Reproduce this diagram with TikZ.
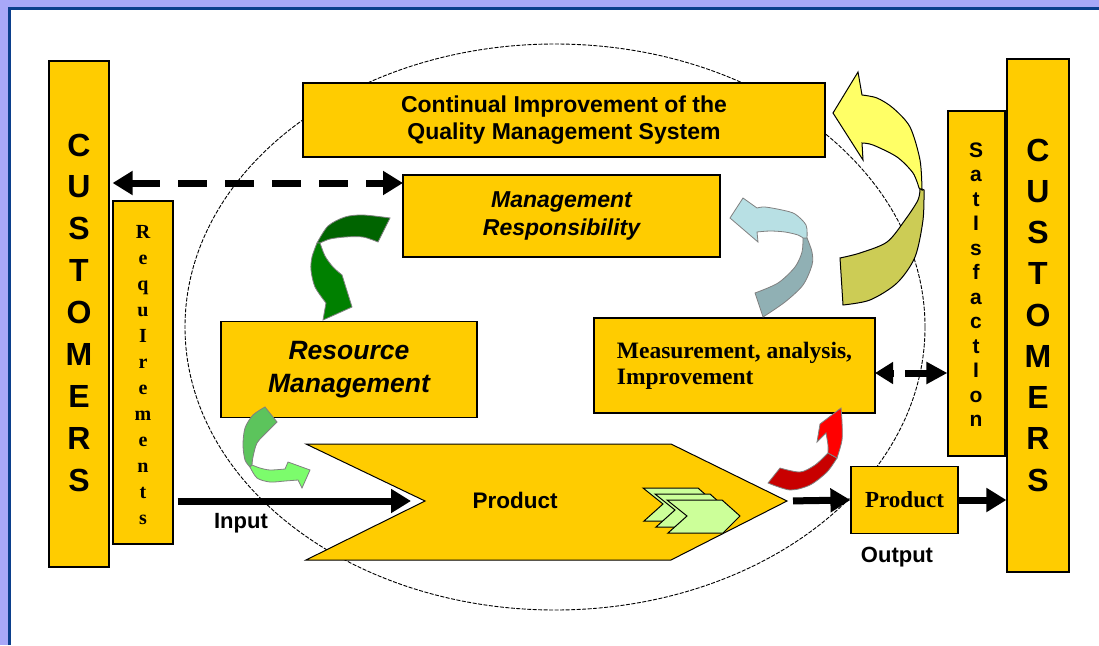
\documentclass[tikz,border=0pt]{standalone}
\usepackage{fontspec}
\setmainfont{Liberation Serif}
\setsansfont{Liberation Sans}
\usetikzlibrary{arrows.meta}

\definecolor{boxgold}{HTML}{FFCC00}
\definecolor{framelav}{HTML}{A8A8F8}
\definecolor{framenavy}{HTML}{0B3F8C}
\definecolor{chevgreen}{HTML}{CCFF99}
\definecolor{dkgreenA}{HTML}{006400}
\definecolor{dkgreenB}{HTML}{008000}
\definecolor{ltgreenA}{HTML}{5CC45C}
\definecolor{ltgreenB}{HTML}{7CFC6C}
\definecolor{iceA}{HTML}{B8E0E4}
\definecolor{iceB}{HTML}{90B0B4}
\definecolor{redA}{HTML}{FF0000}
\definecolor{redB}{HTML}{C80000}
\definecolor{yelA}{HTML}{FFFF66}
\definecolor{yelB}{HTML}{CCCC55}

\tikzset{
  goldbox/.style={draw=black, line width=1.2pt, fill=boxgold, inner sep=0pt},
  fatarrow/.style={line width=7pt, -{Triangle[length=20pt,width=23pt]}},
  twist/.style={draw=gray, line width=0.8pt},
  bigletter/.style={font=\sffamily\bfseries\fontsize{32}{32}\selectfont},
  reqletter/.style={font=\rmfamily\bfseries\fontsize{20}{20}\selectfont, anchor=base},
  satletter/.style={font=\sffamily\bfseries\fontsize{21}{21}\selectfont, anchor=base},
}

\begin{document}
\begin{tikzpicture}[x=1pt,y=-1pt]
\useasboundingbox (0,0) rectangle (1099,645);
%% frame
\fill[framelav] (0,0) rectangle (1099,645);
\fill[white] (8,7) rectangle (1099,645);
\draw[framenavy, line width=3pt] (9.5,645) -- (9.5,8.5) -- (1099,8.5);

%% the loop
\draw[line width=0.9pt, dash pattern=on 4pt off 1.5pt] (555,327) ellipse [x radius=370, y radius=283];

%% customers and their bars
\node[goldbox, minimum width=60pt, minimum height=506pt] (custin) at (79,314) {};
\node[goldbox, minimum width=60pt, minimum height=343pt] (req) at (143,372.5) {};
\node[goldbox, minimum width=57pt, minimum height=345pt] (sat) at (976.5,283.5) {};
\node[goldbox, minimum width=62pt, minimum height=513pt] (custout) at (1038,315.5) {};
\foreach \ch [count=\i from 0] in {C,U,S,T,O,M,E,R,S}
  \node[bigletter] (cl\i) at (79,145+41.9*\i) {\ch};
\foreach \ch [count=\i from 0] in {C,U,S,T,O,M,E,R,S}
  \node[bigletter] (cr\i) at (1038,150+41.25*\i) {\ch};
\foreach \ch [count=\i from 0] in {R,e,q,u,I,r,e,m,e,n,t,s}
  \node[reqletter] (rq\i) at (143,238+26*\i) {\ch};
\foreach \ch [count=\i from 0] in {S,a,t,I,s,f,a,c,t,I,o,n}
  \node[satletter] (st\i) at (976,157+24.5*\i) {\ch};

%% process boxes
\node[goldbox, minimum width=522pt, minimum height=74pt, align=center,
  font=\sffamily\bfseries\fontsize{23}{27}\selectfont] (cont) at (564,120)
  {Continual Improvement of the\\Quality Management System};
\node[goldbox, minimum width=317pt, minimum height=82pt, align=center,
  font=\sffamily\bfseries\itshape\fontsize{23}{28}\selectfont] (mgmt) at (561.5,216)
  {Management\\Responsibility};
\node[goldbox, minimum width=256pt, minimum height=96pt, align=center,
  font=\sffamily\bfseries\itshape\fontsize{26.5}{33}\selectfont] (res) at (349,369.5)
  {Resource\\Management};
\node[goldbox, minimum width=281pt, minimum height=95pt, align=left,
  font=\rmfamily\bfseries\fontsize{23.5}{26}\selectfont] (meas) at (734.5,365.5)
  {Measurement, analysis,\\Improvement};
\node[goldbox, minimum width=107pt, minimum height=67pt,
  font=\rmfamily\bfseries\fontsize{23}{23}\selectfont] (prodout) at (904.5,500) {Product};

%% product chevron
\coordinate (notch) at (425,501);
\coordinate (tip) at (787,501);
\draw[fill=boxgold, line width=1pt] (306,444) -- (671,444) -- (tip) -- (671,560) -- (306,560) -- (notch) -- cycle;
\node[font=\sffamily\bfseries\fontsize{22.5}{22.5}\selectfont] (prodin) at (515,500) {Product};
\foreach \d in {0,12,24}{
\begin{scope}[shift={(643+\d,488+\d/2)}]
\draw[fill=chevgreen, line width=1pt] (0,0) -- (55,0) -- (73,16) -- (56,33) -- (1,33) -- (20,16) -- cycle;
\end{scope}
}

\node[font=\sffamily\bfseries\fontsize{22}{22}\selectfont] (inlbl) at (241,523) {Input};
\node[font=\sffamily\bfseries\fontsize{22}{22}\selectfont] (outlbl) at (897,557) {Output};

%% straight arrows
\coordinate (mgmtin) at (403,183);
\coordinate (measout) at (875,373);
\draw[line width=7pt, dash pattern=on 29pt off 18pt, shorten <=3pt,
  {Triangle[length=20pt,width=23pt]}-{Triangle[length=20pt,width=23pt]}] (custin.east |- mgmtin) -- (mgmtin);
\draw[fatarrow, shorten <=4pt] (req.east |- notch) -- ([xshift=-14pt]notch);
\draw[fatarrow, shorten <=6pt] (tip) -- (prodout.west);
\draw[fatarrow] (prodout.east) -- (custout.west |- prodout.east);
\draw[line width=7pt, {Triangle[length=18pt,width=21pt]}-] (measout) -- ++(19,0);
\draw[line width=7pt, -{Triangle[length=21pt,width=21pt]}] ([xshift=30pt]measout) -- (sat.west |- measout);

%% twisted arrows
\filldraw[twist, fill=dkgreenA] plot[smooth] coordinates {(390,218) (363,215) (345,217) (328,226) (317,243)}
  -- plot[smooth] coordinates {(320,243) (330,239) (345,237) (363,237) (378,242)} -- cycle;
\filldraw[twist, fill=dkgreenB] plot[smooth] coordinates {(317,243) (312,257) (311,270) (315,287) (326,303)}
  -- (323,320) -- (352,307) -- (342,275)
  -- plot[smooth] coordinates {(342,275) (333,267) (325,256) (320,243)} -- cycle;

\filldraw[twist, fill=ltgreenA] plot[smooth] coordinates {(265,407) (253,415) (245,428) (243,445) (245,460) (250,467)}
  -- plot[smooth] coordinates {(252,465) (253,457) (257,443) (267,432) (277,422)} -- cycle;
\filldraw[twist, fill=ltgreenB] plot[smooth] coordinates {(250,467) (257,478) (270,482) (285,481) (298,480)}
  -- (302,488) -- (310,470) -- (288,462) -- (285,469)
  -- plot[smooth] coordinates {(285,469) (270,470) (260,468) (252,465)} -- cycle;

\filldraw[twist, fill=iceB] plot[smooth] coordinates {(763,317) (785,302) (803,285) (812,265) (812,252) (807,238)}
  -- plot[smooth] coordinates {(803,238) (802,252) (795,267) (778,283) (755,293)} -- cycle;
\filldraw[twist, fill=iceA] plot[smooth] coordinates {(807,238) (806,225) (795,214) (782,210) (765,207) (757,208)}
  -- (743,198) -- (730,218) -- (758,242) -- (757,232)
  -- plot[smooth] coordinates {(757,232) (770,231) (785,232) (798,235) (803,238)} -- cycle;

\filldraw[twist, fill=redB] plot[smooth] coordinates {(768,483) (790,490) (810,485) (827,472) (837,458)}
  -- plot[smooth] coordinates {(828,453) (815,465) (800,472) (780,468)} -- cycle;
\filldraw[twist, fill=redA] plot[smooth] coordinates {(837,458) (842,440) (842,422) (841,408)}
  -- (820,424) -- (817,442) -- (826,433)
  -- plot[smooth] coordinates {(826,433) (828,445) (828,453)} -- cycle;

\filldraw[draw=black, line width=1pt, fill=yelB] plot[smooth] coordinates {(843,305) (870,300) (897,283) (915,257) (923,220) (924,190)}
  -- plot[smooth] coordinates {(920,188) (918,200) (905,220) (887,242) (860,253) (840,258)} -- cycle;
\filldraw[draw=black, line width=1pt, fill=yelA] plot[smooth] coordinates {(922,190) (920,160) (910,127) (893,108) (877,98) (862,95)}
  -- (858,72) -- (833,113) -- (863,160) -- (862,143)
  -- plot[smooth] coordinates {(862,143) (873,145) (897,157) (913,173) (919,188)} -- cycle;

\end{tikzpicture}
\end{document}
